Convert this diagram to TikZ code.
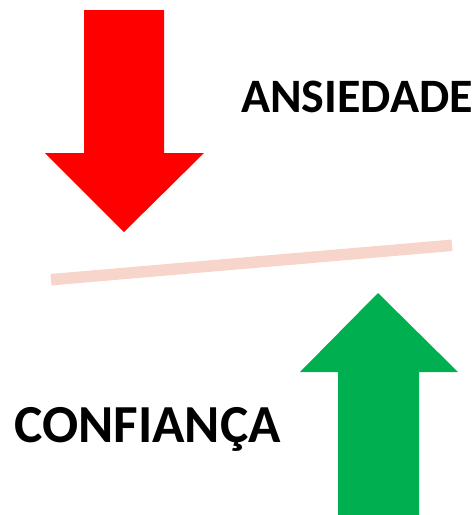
\documentclass[tikz,border=0pt]{standalone}
\usepackage{fontspec}
\setmainfont{Carlito}
\definecolor{arrred}{RGB}{255,0,0}
\definecolor{arrgreen}{RGB}{0,176,80}
\definecolor{barpink}{RGB}{247,213,202}
\begin{document}
\begin{tikzpicture}[x=1pt,y=-1pt,
  lbl/.style={inner sep=0pt,anchor=base west,font=\bfseries}]
\useasboundingbox (0,0) rectangle (475,515);
% red arrow (down)
\fill[arrred] (84,10) -- (164,10) -- (164,153) -- (204,153) -- (124,232) -- (45,153) -- (84,153) -- cycle;
% green arrow (up)
\fill[arrgreen] (338,515) -- (338,372) -- (300,372) -- (378,293) -- (458,372) -- (419,372) -- (419,515) -- cycle;
% bar
\coordinate (bl) at (51,279.7);
\coordinate (br) at (452,245.3);
\draw[barpink,line width=11.5pt] (bl) -- (br);
% labels
\node[lbl,font=\bfseries\fontsize{48}{48}\selectfont] (ans) at (241,112) {ANSIEDADE};
\node[lbl,font=\bfseries\fontsize{53.5}{53.5}\selectfont] (conf) at (14,442) {CONFIANÇA};
\end{tikzpicture}
\end{document}
